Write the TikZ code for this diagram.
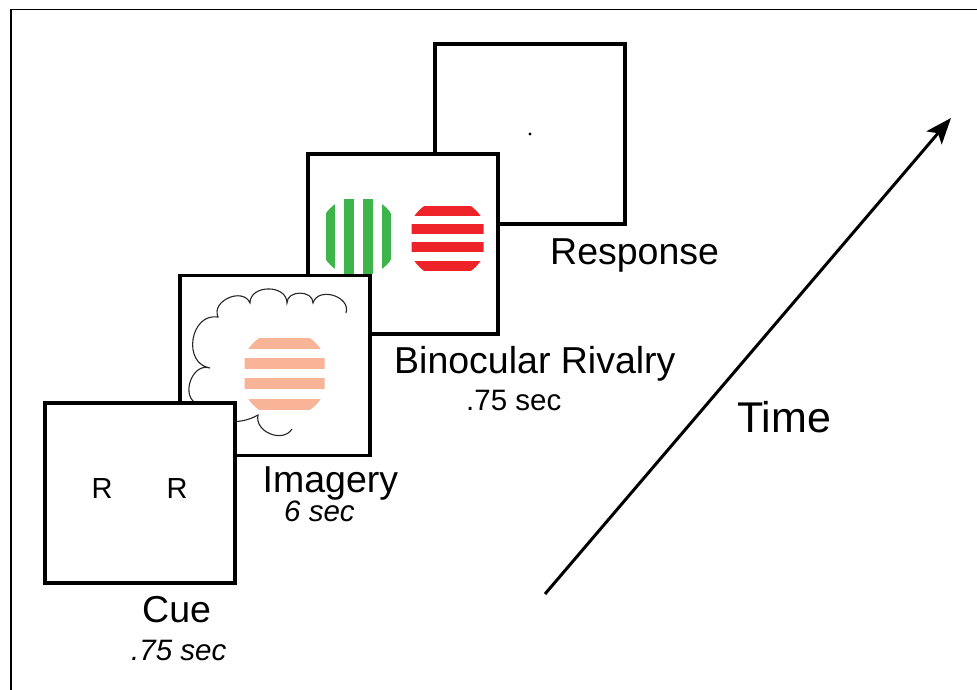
\documentclass[tikz,border=0pt]{standalone}
\usepackage{fontspec}
\setmainfont{Liberation Sans}
\usetikzlibrary{arrows.meta,positioning,calc}
\definecolor{grn}{HTML}{3DB54A}
\definecolor{rd}{HTML}{EE2329}
\definecolor{peach}{HTML}{F9B397}
\tikzset{
  scr/.style={draw=black,line width=3.5pt,fill=white,minimum width=190pt,minimum height=180pt,inner sep=0pt,outer sep=0pt},
  lab/.style={font=\fontsize{37.5}{40}\selectfont,anchor=base west,inner sep=0pt},
  dur/.style={font=\fontsize{29.5}{32}\selectfont,anchor=base west,inner sep=0pt},
  idur/.style={dur,font=\fontsize{29.5}{32}\selectfont\itshape},
  rlet/.style={font=\fontsize{29}{30}\selectfont,inner sep=0pt},
  cloud/.style={draw=black!85,line width=1.1pt},
  timearr/.style={-{Stealth[length=26pt,width=20pt,inset=6pt]},line width=3pt},
}
% striped disc: centre, radius, half extent across stripes, colour, rotation, stripe centres, stripe half width
\newcommand{\stripedisc}[7]{%
  \begin{scope}[shift={#1},rotate=#5]
    \clip (0,0) circle (#2pt);
    \clip (-#3,-60) rectangle (#3,60);
    \foreach \s in {#6} \fill[#4] (-60,\s-#7) rectangle (60,\s+#7);
  \end{scope}}

\begin{document}
\begin{tikzpicture}[x=1pt,y=-1pt]
\useasboundingbox (0,0) rectangle (977,690);
\draw[line width=1.2pt] (11,690) -- (11,9.5) -- (977,9.5);

% screens, back to front
\node[scr] (resp) at (530,134) {};
\fill (resp.center) circle (1.7pt);

\node[scr] (br) at (403,244) {};
\stripedisc{(358.5,236.5)}{40}{37}{grn}{90}{-28,-9.5,9.5,28}{4.75}
\stripedisc{(447.5,238.5)}{40}{36}{rd}{0}{-27.5,-10,8.5,27.5}{5}

\node[scr] (img) at (275,365.5) {};
\draw[cloud] (346,313) to[bend right=90,looseness=1.3] (313,303) to[bend right=90,looseness=1.3] (287,303)
  to[bend right=90,looseness=1.3] (250,303) to[bend right=90,looseness=1.3] (218,317)
  to[bend right=90,looseness=1.4] (210,368) to[bend right=90,looseness=1.3] (198,404)
  to[bend right=40] (258,415) to[bend right=80,looseness=1.2] (292,429);
\stripedisc{(284.5,374)}{44}{40}{peach}{0}{-30.5,-10.5,9.5,30}{5.5}

\node[scr] (cue) at (140,493) {};
\node[rlet] (rl) at ($(cue.center)+(-38,-4)$) {R};
\node[rlet] (rr) at ($(cue.center)+(37,-4)$) {R};

% labels
\node[lab] (resplab) at (550,264) {Response};
\node[lab] (brlab) at (394,373) {Binocular Rivalry};
\node[dur] (brdur) at (466,410) {.75 sec};
\node[lab] (imglab) at (262.5,492) {Imagery};
\node[idur] (imgdur) at (284,521) {6 sec};
\node[lab] (cuelab) at (142,622) {Cue};
\node[idur] (cuedur) at (131,660) {.75 sec};

% time axis
\coordinate (t0) at (545,594);
\coordinate (t1) at (951,118);
\draw[timearr] (t0) -- (t1);
\node[font=\fontsize{43}{46}\selectfont,anchor=base west,inner sep=0pt] (timelab) at (737,432.5) {Time};
\end{tikzpicture}
\end{document}
